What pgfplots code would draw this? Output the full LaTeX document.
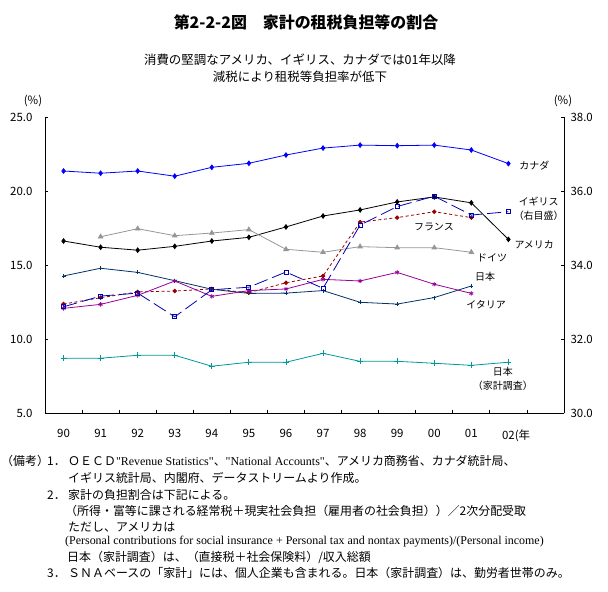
\documentclass[border=0pt]{standalone}
\usepackage{fontspec}
\usepackage{pgfplots}
\pgfplotsset{compat=1.18}
\setmainfont{Noto Sans CJK JP}
\newfontfamily\enserif{Liberation Serif}
\definecolor{cCA}{RGB}{0,0,255}
\definecolor{cUS}{RGB}{0,0,0}
\definecolor{cDE}{RGB}{150,150,150}
\definecolor{cFR}{RGB}{153,0,0}
\definecolor{cUK}{RGB}{0,0,180}
\definecolor{cJP}{RGB}{0,51,102}
\definecolor{cIT}{RGB}{153,0,153}
\definecolor{cJH}{RGB}{0,153,153}
\newcommand{\tickfont}{\fontsize{11.5}{12}\selectfont}
\newcommand{\lblfont}{\fontsize{10}{14}\selectfont}
\newcommand{\notefont}{\fontsize{12}{14}\selectfont}
\begin{document}
\begin{tikzpicture}[x=1bp,y=1bp]
\useasboundingbox (0,0) rectangle (608,592);
% titles
\node[font=\fontsize{16}{18}\selectfont\bfseries] at (306,570) {第2-2-2図\hspace{1em}家計の租税負担等の割合};
\node[font=\fontsize{12.5}{15}\selectfont] at (300,532) {消費の堅調なアメリカ、イギリス、カナダでは01年以降};
\node[font=\fontsize{12.5}{15}\selectfont] at (300,515) {減税により租税等負担率が低下};
\node[font=\tickfont] at (33,491) {(\%)};
\node[font=\tickfont] at (563,491) {(\%)};
\begin{axis}[
  at={(45bp,179bp)}, anchor=south west, scale only axis,
  width=519bp, height=296bp,
  xmin=-0.5, xmax=13.5, ymin=5, ymax=25,
  axis x line*=bottom, axis y line*=left,
  axis line style={line width=0.8bp, -},
  tick align=inside, major tick length=3bp,
  tick style={line width=0.8bp, black},
  ytick={5,10,15,20,25},
  /pgf/number format/.cd, fixed, fixed zerofill, precision=1, assume math mode=true, /pgfplots/.cd,
  yticklabel style={font=\tickfont, xshift=-9bp},
  xtick={0.5,1.5,...,12.5}, xticklabels={},
  extra x ticks={0,1,...,12},
  extra x tick labels={90,91,92,93,94,95,96,97,98,99,00,01,02\rlap{(年}},
  extra x tick style={major tick length=0pt, xticklabel style={font=\tickfont, yshift=-13bp}},
  clip=false,
  every axis plot/.append style={line width=0.8bp},
]
% Canada
\addplot[color=cCA, mark=diamond*, mark size=2.3bp] coordinates {
(0,21.35)(1,21.2)(2,21.35)(3,21.0)(4,21.6)(5,21.87)(6,22.43)(7,22.9)(8,23.1)(9,23.06)(10,23.1)(11,22.77)(12,21.85)};
% USA
\addplot[color=cUS, mark=diamond*, mark size=2.3bp] coordinates {
(0,16.62)(1,16.2)(2,16.0)(3,16.26)(4,16.62)(5,16.87)(6,17.57)(7,18.31)(8,18.72)(9,19.26)(10,19.6)(11,19.2)(12,16.73)};
% Germany
\addplot[color=cDE, mark=triangle*, mark size=2.6bp] coordinates {
(1,16.91)(2,17.45)(3,16.98)(4,17.16)(5,17.39)(6,16.06)(7,15.86)(8,16.24)(9,16.17)(10,16.17)(11,15.86)};
% France
\addplot[color=cFR, dash pattern=on 3bp off 2.5bp, mark=*, mark size=1.8bp, mark options={solid}] coordinates {
(0,12.36)(1,12.79)(2,13.18)(3,13.24)(4,13.38)(5,13.13)(6,13.8)(7,14.26)(8,17.9)(9,18.2)(10,18.6)(11,18.2)};
% Japan
\addplot[color=cJP, mark=+, mark size=2bp] coordinates {
(0,14.26)(1,14.78)(2,14.5)(3,13.94)(4,13.36)(5,13.08)(6,13.1)(7,13.27)(8,12.48)(9,12.36)(10,12.8)(11,13.58)};
% Italy
\addplot[color=cIT, mark=asterisk, mark size=2.2bp] coordinates {
(0,12.07)(1,12.34)(2,12.95)(3,13.92)(4,12.88)(5,13.27)(6,13.38)(7,14.03)(8,13.92)(9,14.5)(10,13.7)(11,13.08)};
% Japan (household survey)
\addplot[color=cJH, mark=+, mark size=3bp] coordinates {
(0,8.7)(1,8.7)(2,8.9)(3,8.9)(4,8.16)(5,8.43)(6,8.43)(7,9.03)(8,8.49)(9,8.49)(10,8.36)(11,8.22)(12,8.43)};
% labels
\node[anchor=west, font=\lblfont] at (axis cs:12.2,21.69) {カナダ};
\node[anchor=west, font=\lblfont, align=center] at (axis cs:12.05,18.78) {イギリス\\（右目盛）};
\node[font=\lblfont] at (axis cs:9.99,17.57) {フランス};
\node[anchor=west, font=\lblfont] at (axis cs:12.07,16.35) {アメリカ};
\node[anchor=west, font=\lblfont] at (axis cs:11.06,15.47) {ドイツ};
\node[anchor=west, font=\lblfont] at (axis cs:11.01,14.19) {日本};
\node[anchor=west, font=\lblfont] at (axis cs:10.77,12.3) {イタリア};
\node[font=\lblfont, align=center] at (axis cs:11.85,7.3) {日本\\（家計調査）};
\end{axis}
\begin{axis}[
  at={(45bp,179bp)}, anchor=south west, scale only axis,
  width=519bp, height=296bp,
  xmin=-0.5, xmax=13.5, ymin=30, ymax=38,
  axis y line*=right, axis x line=none,
  axis line style={line width=0.8bp, -},
  tick align=inside, major tick length=3bp,
  tick style={line width=0.8bp, black},
  ytick={30,32,34,36,38},
  /pgf/number format/.cd, fixed, fixed zerofill, precision=1, assume math mode=true, /pgfplots/.cd,
  yticklabel style={font=\tickfont, xshift=3bp},
  clip=false,
]
% UK (right axis)
\addplot[color=cUK, line width=0.8bp, dash pattern=on 14bp off 5bp, mark=square, mark size=2bp, mark options={solid}] coordinates {
(0,32.87)(1,33.16)(2,33.24)(3,32.6)(4,33.33)(5,33.4)(6,33.81)(7,33.37)(8,35.08)(9,35.58)(10,35.86)(11,35.35)(12,35.44)};
\end{axis}
% notes
\begin{scope}[every node/.style={anchor=west, inner sep=0pt, font=\notefont}]
\node at (1,131) {（備考）};
\node at (47,131) {1．};
\node at (68,131) {ＯＥＣＤ{\enserif "Revenue Statistics"}、{\enserif "National Accounts"}、アメリカ商務省、カナダ統計局、};
\node at (68,114) {イギリス統計局、内閣府、データストリームより作成。};
\node at (47,97) {2．};
\node at (68,97) {家計の負担割合は下記による。};
\node at (65,81) {（所得・富等に課される経常税＋現実社会負担（雇用者の社会負担））／2次分配受取};
\node at (68,65) {ただし、アメリカは};
\node at (65,50) {\enserif (Personal contributions for social insurance + Personal tax and nontax payments)/(Personal income)};
\node at (67,35) {日本（家計調査）は、（直接税＋社会保険料）/収入総額};
\node at (47,19) {3．};
\node at (68,19) {ＳＮＡベースの「家計」には、個人企業も含まれる。日本（家計調査）は、勤労者世帯のみ。};
\end{scope}
\end{tikzpicture}
\end{document}
